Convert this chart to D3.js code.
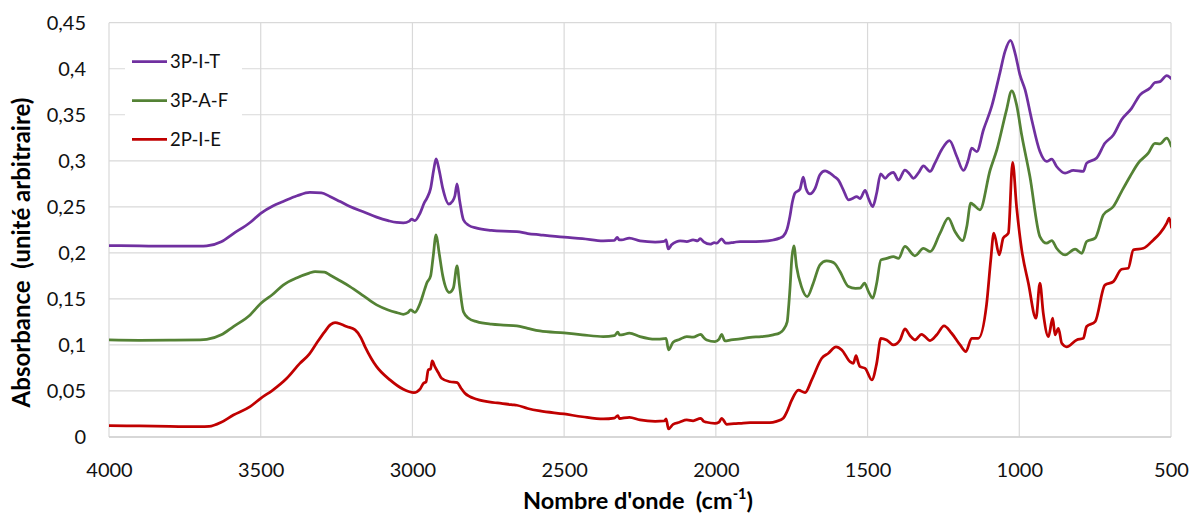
<!DOCTYPE html>
<html>
<head>
<meta charset="utf-8">
<script src="https://cdn.jsdelivr.net/npm/d3@7"></script>
<style>
html,body{margin:0;padding:0;background:#fff;}
svg{display:block;font-family:Lato,"Open Sans",sans-serif;}
</style>
</head>
<body>
<svg id="chart" width="1193" height="516"></svg>
<script>
// ---- Data (wavenumber cm-1, absorbance) ----
const seriesNames = ["3P-I-T", "3P-A-F", "2P-I-E"];
const xTicks = [4000, 3500, 3000, 2500, 2000, 1500, 1000, 500];
const yTicks = [0, 0.05, 0.1, 0.15, 0.2, 0.25, 0.3, 0.35, 0.4, 0.45];

const data3PIT = [
[4000,0.208],[3900,0.2075],[3800,0.2072],[3700,0.2072],[3678,0.2075],[3630,0.212],[3590,0.221],[3535,0.233],[3500,0.243],[3460,0.251],[3426,0.2558],[3380,0.262],[3338,0.2656],[3300,0.2652],[3272,0.2612],[3240,0.256],[3206,0.2503],[3160,0.2443],[3118,0.2388],[3080,0.235],[3052,0.233],[3030,0.2326],[3010,0.2345],[3003,0.2366],[2992,0.235],[2975,0.243],[2960,0.255],[2953,0.259],[2940,0.27],[2930,0.29],[2922,0.302],[2912,0.29],[2900,0.27],[2880,0.253],[2868,0.256],[2860,0.262],[2853,0.275],[2845,0.258],[2832,0.236],[2815,0.230],[2788,0.2268],[2740,0.2245],[2700,0.2235],[2656,0.223],[2620,0.221],[2580,0.2196],[2500,0.217],[2440,0.2155],[2371,0.213],[2335,0.2135],[2325,0.2167],[2318,0.214],[2311,0.214],[2285,0.216],[2250,0.213],[2200,0.2118],[2170,0.2125],[2164,0.214],[2157,0.2043],[2146,0.2087],[2130,0.212],[2118,0.213],[2096,0.2123],[2075,0.214],[2060,0.213],[2052,0.2155],[2040,0.212],[2019,0.2094],[2005,0.211],[1997,0.2105],[1981,0.2152],[1970,0.211],[1964,0.2105],[1940,0.2115],[1920,0.2123],[1887,0.2123],[1850,0.2125],[1811,0.214],[1790,0.216],[1778,0.218],[1765,0.226],[1756,0.2395],[1748,0.255],[1739,0.265],[1723,0.269],[1712,0.2822],[1703,0.270],[1690,0.264],[1673,0.270],[1657,0.2848],[1640,0.289],[1624,0.2866],[1610,0.283],[1596,0.279],[1580,0.2685],[1563,0.2576],[1550,0.259],[1536,0.2612],[1525,0.259],[1508,0.268],[1497,0.259],[1483,0.2503],[1470,0.265],[1457,0.2859],[1442,0.281],[1430,0.285],[1415,0.2873],[1398,0.279],[1377,0.290],[1360,0.285],[1349,0.281],[1330,0.288],[1316,0.2946],[1294,0.2884],[1278,0.2975],[1256,0.312],[1230,0.322],[1206,0.3047],[1184,0.2895],[1168,0.301],[1157,0.3138],[1140,0.310],[1118,0.3337],[1091,0.359],[1064,0.3953],[1047,0.4188],[1029,0.4308],[1014,0.417],[998,0.3935],[981,0.3772],[959,0.3446],[932,0.310],[910,0.2993],[893,0.3018],[877,0.2938],[849,0.2866],[822,0.2895],[789,0.2884],[778,0.2975],[745,0.303],[718,0.319],[690,0.328],[663,0.3446],[630,0.357],[602,0.3717],[569,0.379],[553,0.385],[536,0.386],[514,0.3924],[498,0.3888]
];

const data3PAF = [
[4000,0.1054],[3900,0.105],[3800,0.1052],[3700,0.1055],[3678,0.106],[3630,0.111],[3590,0.12],[3535,0.1326],[3500,0.145],[3460,0.155],[3426,0.165],[3380,0.173],[3340,0.178],[3321,0.1797],[3290,0.179],[3272,0.176],[3240,0.170],[3206,0.1634],[3160,0.153],[3118,0.1435],[3080,0.138],[3050,0.135],[3030,0.1333],[3015,0.135],[3006,0.138],[2992,0.1355],[2975,0.145],[2960,0.160],[2953,0.167],[2940,0.175],[2932,0.195],[2922,0.2196],[2912,0.200],[2900,0.175],[2878,0.157],[2865,0.162],[2853,0.186],[2845,0.165],[2832,0.136],[2815,0.129],[2788,0.1253],[2740,0.1225],[2700,0.1215],[2656,0.1207],[2620,0.118],[2580,0.1152],[2500,0.113],[2440,0.111],[2371,0.109],[2335,0.110],[2323,0.1138],[2318,0.111],[2311,0.111],[2285,0.1127],[2250,0.109],[2200,0.1062],[2170,0.1068],[2164,0.1072],[2156,0.0946],[2141,0.1029],[2120,0.106],[2096,0.109],[2075,0.1085],[2050,0.1116],[2040,0.108],[2030,0.1054],[2003,0.1036],[1990,0.106],[1981,0.1116],[1970,0.1043],[1950,0.1055],[1920,0.1065],[1887,0.1083],[1850,0.109],[1811,0.111],[1790,0.113],[1778,0.1163],[1765,0.125],[1761,0.138],[1755,0.165],[1750,0.1924],[1743,0.2076],[1734,0.185],[1718,0.1634],[1699,0.1525],[1679,0.167],[1657,0.187],[1635,0.1913],[1620,0.1905],[1607,0.188],[1591,0.1797],[1563,0.1634],[1540,0.1615],[1525,0.1616],[1510,0.167],[1497,0.158],[1483,0.1508],[1470,0.167],[1456,0.1924],[1437,0.194],[1415,0.196],[1398,0.194],[1377,0.207],[1344,0.1967],[1316,0.205],[1294,0.2014],[1261,0.2214],[1234,0.2377],[1212,0.2232],[1187,0.2134],[1173,0.2286],[1160,0.254],[1150,0.252],[1130,0.2467],[1096,0.290],[1074,0.312],[1042,0.3554],[1025,0.376],[1009,0.361],[992,0.328],[965,0.283],[932,0.2177],[910,0.2105],[893,0.2134],[877,0.205],[849,0.1978],[816,0.204],[794,0.1995],[778,0.2123],[750,0.216],[723,0.2413],[690,0.2503],[663,0.2666],[635,0.283],[608,0.2975],[575,0.3083],[553,0.319],[536,0.3185],[514,0.3246],[498,0.3149]
];

const data2PIE = [
[4000,0.0124],[3900,0.012],[3800,0.0115],[3700,0.0112],[3670,0.0115],[3630,0.016],[3590,0.0239],[3535,0.033],[3500,0.042],[3460,0.051],[3414,0.0638],[3371,0.080],[3340,0.090],[3316,0.1018],[3290,0.114],[3270,0.122],[3255,0.1243],[3235,0.1225],[3217,0.120],[3189,0.1163],[3170,0.108],[3156,0.098],[3118,0.0764],[3074,0.062],[3030,0.0518],[2995,0.0482],[2975,0.052],[2964,0.0583],[2955,0.060],[2948,0.0728],[2940,0.074],[2935,0.0826],[2926,0.0764],[2915,0.070],[2904,0.0638],[2876,0.060],[2852,0.059],[2840,0.053],[2827,0.0475],[2788,0.041],[2720,0.037],[2670,0.035],[2656,0.0345],[2620,0.031],[2580,0.0283],[2500,0.025],[2440,0.022],[2371,0.0196],[2335,0.0205],[2323,0.0232],[2318,0.020],[2311,0.0203],[2285,0.0214],[2250,0.0185],[2200,0.017],[2170,0.0175],[2164,0.0196],[2156,0.0087],[2141,0.0138],[2120,0.016],[2096,0.0185],[2075,0.0175],[2050,0.0203],[2040,0.017],[2030,0.016],[2003,0.0149],[1990,0.016],[1981,0.0203],[1964,0.0138],[1940,0.0145],[1920,0.0149],[1887,0.0155],[1822,0.0155],[1800,0.017],[1778,0.0203],[1765,0.028],[1750,0.040],[1728,0.051],[1706,0.0482],[1684,0.062],[1651,0.0855],[1629,0.091],[1604,0.098],[1585,0.0946],[1558,0.0819],[1547,0.080],[1538,0.0884],[1530,0.080],[1525,0.0764],[1508,0.0746],[1486,0.062],[1470,0.080],[1456,0.1072],[1437,0.1054],[1415,0.100],[1393,0.1054],[1377,0.1174],[1360,0.110],[1344,0.1054],[1322,0.1116],[1294,0.1047],[1272,0.111],[1248,0.1207],[1223,0.1127],[1195,0.100],[1176,0.0928],[1157,0.1072],[1135,0.1072],[1108,0.1435],[1094,0.1924],[1084,0.2214],[1066,0.1978],[1053,0.216],[1036,0.2214],[1022,0.2982],[1009,0.2503],[992,0.2033],[970,0.167],[945,0.129],[932,0.167],[921,0.1345],[904,0.109],[890,0.129],[882,0.111],[871,0.118],[860,0.1018],[844,0.098],[811,0.1054],[789,0.1072],[778,0.120],[750,0.1253],[718,0.165],[690,0.1688],[663,0.1822],[641,0.1833],[624,0.2033],[591,0.205],[558,0.2141],[536,0.2214],[514,0.2322],[506,0.2377],[498,0.2268]
];

const seriesData = [data3PIT, data3PAF, data2PIE];
const seriesColors = ["#7030A0", "#548235", "#C00000"];

// ---- Layout ----
const svg = d3.select("#chart");
const L = 109, R = 1171, T = 22.7, B = 437;

const x = d3.scaleLinear().domain([4000, 500]).range([L, R]);
const y = d3.scaleLinear().domain([0, 0.45]).range([B, T]);

svg.append("defs").append("clipPath").attr("id", "plotclip")
  .append("rect").attr("x", L).attr("y", T - 5).attr("width", R - L).attr("height", B - T + 10);

// gridlines
const grid = svg.append("g").attr("stroke", "#d9d9d9").attr("stroke-width", 1.2);
grid.selectAll("line.h").data(yTicks).join("line")
  .attr("x1", L).attr("x2", R)
  .attr("y1", d => y(d)).attr("y2", d => y(d));
grid.selectAll("line.v").data(xTicks).join("line")
  .attr("y1", T).attr("y2", B)
  .attr("x1", d => x(d)).attr("x2", d => x(d));

// axes via d3 axis
const fmtY = d => String(+d.toFixed(2)).replace(".", ",");
const yAxis = svg.append("g").attr("transform", `translate(${L},0)`)
  .call(d3.axisLeft(y).tickValues(yTicks).tickSize(0).tickPadding(23).tickFormat(fmtY));
const xAxis = svg.append("g").attr("transform", `translate(0,${B})`)
  .call(d3.axisBottom(x).tickValues(xTicks).tickSize(0).tickPadding(25.5).tickFormat(d => String(d)));
[yAxis, xAxis].forEach(a => {
  a.select(".domain").remove();
  a.selectAll("text").attr("font-family", "Lato, sans-serif").attr("font-size", 20).attr("fill", "#111");
});
svg.append("line").attr("x1", L).attr("x2", R).attr("y1", B).attr("y2", B)
  .attr("stroke", "#d0d0d0").attr("stroke-width", 1.3);

// lines
const line = d3.line().x(d => x(d[0])).y(d => y(d[1])).curve(d3.curveMonotoneX);
const lines = svg.append("g").attr("clip-path", "url(#plotclip)");
seriesData.forEach((s, i) => {
  lines.append("path").datum(s)
    .attr("fill", "none").attr("stroke", seriesColors[i]).attr("stroke-width", 2.75)
    .attr("stroke-linejoin", "round").attr("d", line);
});

// legend
const lg = svg.append("g");
lg.append("rect").attr("x", 125).attr("y", 30).attr("width", 117).attr("height", 125).attr("fill", "#fff");
const legY = [61.7, 100.7, 139.3];
seriesNames.forEach((n, i) => {
  lg.append("line").attr("x1", 132).attr("x2", 167).attr("y1", legY[i]).attr("y2", legY[i])
    .attr("stroke", seriesColors[i]).attr("stroke-width", 2.75);
  lg.append("text").attr("x", 170).attr("y", legY[i]).attr("dy", "0.36em")
    .attr("font-size", 18.5).attr("fill", "#111").text(n);
});

// axis titles
svg.append("text").attr("transform", "translate(29.5,252.5) rotate(-90)")
  .attr("text-anchor", "middle").attr("font-weight", "bold").attr("font-size", 24).attr("fill", "#000")
  .attr("xml:space", "preserve")
  .text("Absorbance  (unité arbitraire)");
const xt = svg.append("text").attr("x", 638).attr("y", 509).attr("text-anchor", "middle")
  .attr("font-weight", "bold").attr("font-size", 23.5).attr("fill", "#000")
  .attr("xml:space", "preserve");
xt.append("tspan").text("Nombre d'onde  (cm");
xt.append("tspan").attr("font-size", 14.5).attr("dy", -10).text("-1");
xt.append("tspan").attr("dy", 10).text(")");
</script>
</body>
</html>
